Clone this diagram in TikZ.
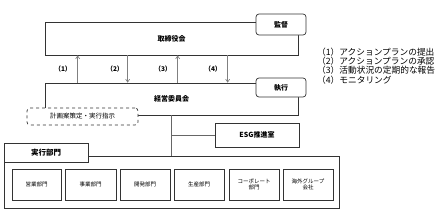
\documentclass[tikz,border=0pt]{standalone}
\usepackage{fontspec}
\setmainfont{Noto Sans CJK JP}
\usetikzlibrary{arrows.meta,calc}
\begin{document}
\begin{tikzpicture}[x=1pt,y=-1pt,
  box/.style={draw=black!80,line width=0.7pt,fill=white,inner sep=0pt,font=\bfseries\fontsize{7}{8}\selectfont},
  rbox/.style={box,rounded corners=3pt},
  dept/.style={draw=black!80,line width=0.8pt,fill=white,inner sep=0pt,align=center,font=\fontsize{5.5}{6.5}\selectfont},
  arr/.style={draw=black!50,line width=0.6pt,-{Straight Barb[length=3pt,width=4pt]}},
  conn/.style={draw=black!60,line width=0.6pt},
  lbl/.style={inner sep=0pt,font=\bfseries\fontsize{6.5}{7}\selectfont},
]
\useasboundingbox (0,0) rectangle (439,214);
% board
\node[box,minimum width=253pt,minimum height=33pt] (tori) at (171.5,38.5) {取締役会};
\node[rbox,minimum width=50pt,minimum height=21pt] (kansa) at (281,24.5) {監督};
% executive committee
\node[box,minimum width=253pt,minimum height=32pt] (keiei) at (171.5,99) {経営委員会};
\node[rbox,minimum width=50pt,minimum height=19pt] (shikko) at (281,87.5) {執行};
% arrows
\draw[arr] ([xshift=33pt]keiei.north west) -- ([xshift=33pt]tori.south west);
\draw[arr] ([xshift=83pt]tori.south west) -- ([xshift=83pt]keiei.north west);
\draw[arr] ([xshift=133pt]keiei.north west) -- ([xshift=133pt]tori.south west);
\draw[arr] ([xshift=183pt]tori.south west) -- ([xshift=183pt]keiei.north west);
\node[lbl] (l1) at (63,69) {（1）};
\node[lbl] (l2) at (115,69) {（2）};
\node[lbl] (l3) at (163,69) {（3）};
\node[lbl] (l4) at (213,69) {（4）};
% plan box
\node[draw=black!80,line width=0.7pt,dashed,rounded corners=3pt,fill=white,minimum width=111pt,minimum height=17pt,inner sep=0pt,font=\fontsize{6.5}{7}\selectfont] (plan) at (82.5,116.5) {計画案策定・実行指示};
% ESG
\node[box,minimum width=84pt,minimum height=24pt] (esg) at (257,135) {ESG推進室};
% execution departments
\node[draw=black!80,line width=0.8pt,minimum width=335pt,minimum height=52pt,inner sep=0pt] (outer) at (171.5,182) {};
\node[box,minimum width=84pt,minimum height=19pt,font=\bfseries\fontsize{7.5}{8}\selectfont] (jikko) at (46,152.5) {実行部門};
\draw[conn] (keiei.south) -- (keiei.south |- outer.north);
\draw[conn] (keiei.south |- esg.west) -- (esg.west);
\node[dept,minimum width=49pt,minimum height=31pt] (d1) at (36.5,184.5) {営業部門};
\node[dept,minimum width=51pt,minimum height=31pt] (d2) at (90.5,184.5) {事業部門};
\node[dept,minimum width=50pt,minimum height=31pt] (d3) at (145,184.5) {開発部門};
\node[dept,minimum width=50pt,minimum height=31pt] (d4) at (199,184.5) {生産部門};
\node[dept,minimum width=50pt,minimum height=31pt] (d5) at (254,184.5) {コーポレート\\部門};
\node[dept,minimum width=50pt,minimum height=31pt] (d6) at (308,184.5) {海外グループ\\会社};
% legend
\node[anchor=west,align=left,inner sep=0pt,font=\fontsize{8.7}{8.2}\selectfont] (legend) at (317,66) {（1）アクションプランの提出\\（2）アクションプランの承認\\（3）活動状況の定期的な報告\\（4）モニタリング};
\end{tikzpicture}
\end{document}
